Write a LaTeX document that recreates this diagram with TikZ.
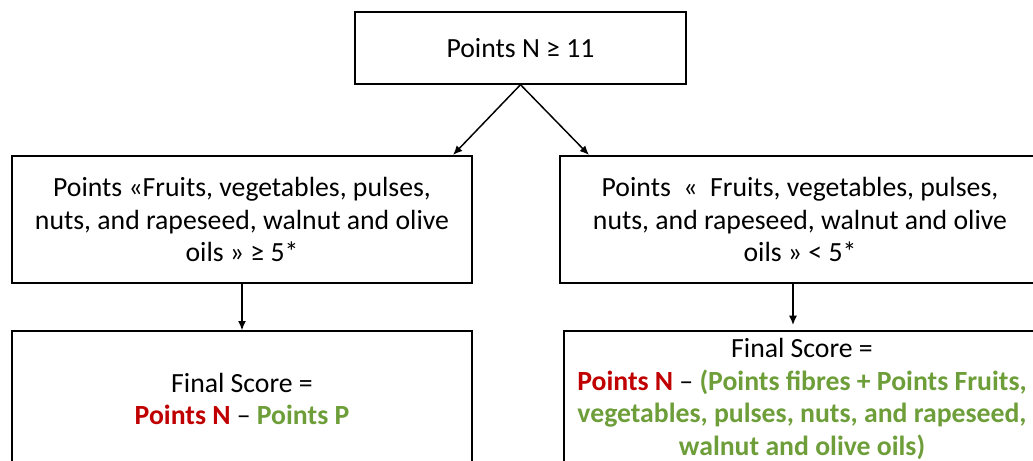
\documentclass[tikz,border=0pt]{standalone}
\usepackage{fontspec}
\setmainfont{Carlito}
\usepackage{tikz}
\usetikzlibrary{arrows.meta}
\definecolor{ptred}{HTML}{C00000}
\definecolor{ptgreen}{HTML}{6E9E3A}
\tikzset{
	crit/.style={draw, line width=1pt, align=center, inner sep=0pt,
		font=\fontsize{20.8}{24.6}\selectfont},
	link/.style={line width=1.1pt, -{Latex[length=7pt,width=6pt]}}
}

\begin{document}
\begin{tikzpicture}[x=0.75pt,y=-0.75pt]
		\useasboundingbox (0,0) rectangle (1033,461);
		\clip (0,0) rectangle (1033,461);
		% threshold on N
		\node[crit, minimum width=331*0.75pt, minimum height=72*0.75pt] (top) at (520.5,48) {Points N ≥ 11};
		% second level
		\node[crit, minimum width=460*0.75pt, minimum height=127*0.75pt] (fvhigh) at (242,219.5)
			{Points «Fruits, vegetables, pulses,\\nuts, and rapeseed, walnut and olive\\oils » ≥ 5*};
		\node[crit, minimum width=480*0.75pt, minimum height=127*0.75pt] (fvlow) at (800,219.5)
			{Points \ « \ Fruits, vegetables, pulses,\\nuts, and rapeseed, walnut and olive\\oils » < 5*};
		% final scores
		\node[crit, minimum width=460*0.75pt, minimum height=136*0.75pt] (scorea) at (242,399)
			{Final Score =\\\textbf{\color{ptred}Points N} – \textbf{\color{ptgreen}Points P}};
		\node[crit, minimum width=476*0.75pt, minimum height=136*0.75pt] (scoreb) at (802,399)
			{Final Score =\\\textbf{\color{ptred}Points N} – \textbf{\color{ptgreen}(Points fibres + Points Fruits,}\\
			\textbf{\color{ptgreen}vegetables, pulses, nuts, and rapeseed,}\\\textbf{\color{ptgreen}walnut and olive oils)}};
		\draw[link] (top.south) -- (453,155);
		\draw[link] (top.south) -- (589,155);
		\draw[link] (fvhigh.south) -- (scorea.north);
		\draw[link] (fvlow.south -| 793,0) -- (793,325);
	\end{tikzpicture}
\end{document}
